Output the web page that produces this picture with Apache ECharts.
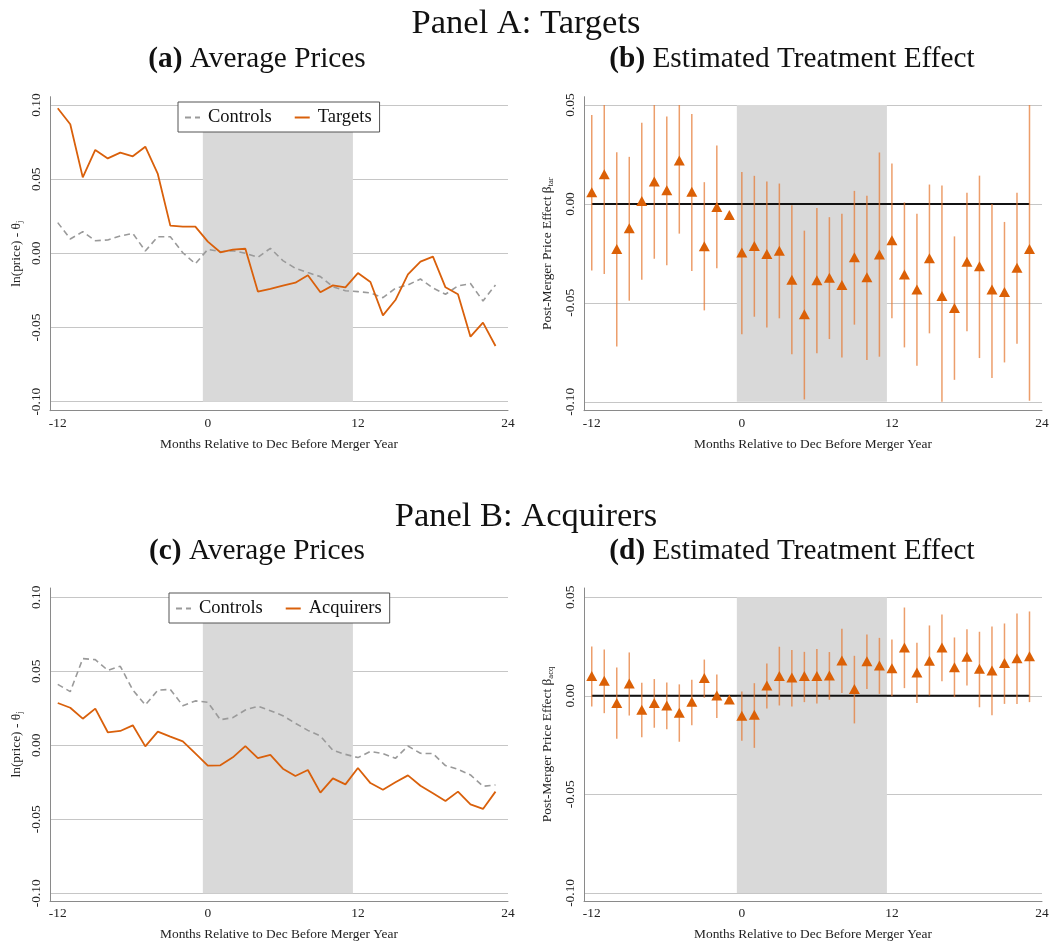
<!DOCTYPE html>
<html>
<head>
<meta charset="utf-8">
<script src="https://cdn.jsdelivr.net/npm/echarts@6/dist/echarts.min.js"></script>
<style>
html,body{margin:0;padding:0;background:#fff;}
#chart{width:1056px;height:946px;}
</style>
</head>
<body>
<div id="chart"></div>
<script>
// ---------------- DATA ----------------
var months = [-12,-11,-10,-9,-8,-7,-6,-5,-4,-3,-2,-1,0,1,2,3,4,5,6,7,8,9,10,11,12,13,14,15,16,17,18,19,20,21,22,23];
var xTicks = [-12, 0, 12, 24];
var priceTicks = [-0.10, -0.05, 0.00, 0.05, 0.10];
var effectTicks = [-0.10, -0.05, 0.00, 0.05];
var shadeStart = -0.4, shadeEnd = 11.6;

// Panel A (a): average prices
var targetsA = [0.0978,0.0870,0.0512,0.0697,0.0640,0.0679,0.0654,0.0719,0.0535,0.0187,0.0180,0.0180,
  0.0079,0.0007,0.0025,0.0031,-0.0258,-0.0240,-0.0218,-0.0198,-0.0148,-0.0263,-0.0216,-0.0229,
  -0.0133,-0.0193,-0.0418,-0.0315,-0.0142,-0.0056,-0.0022,-0.0229,-0.0276,-0.0562,-0.0467,-0.0625];
var controlsA = [0.0207,0.0097,0.0146,0.0085,0.0090,0.0117,0.0135,0.0016,0.0112,0.0112,0.0004,-0.0070,
  0.0027,0.0011,0.0018,0.0000,-0.0027,0.0034,-0.0049,-0.0101,-0.0130,-0.0157,-0.0225,-0.0252,
  -0.0258,-0.0267,-0.0299,-0.0236,-0.0213,-0.0173,-0.0234,-0.0276,-0.0220,-0.0204,-0.0321,-0.0213];

// Panel A (b): estimated treatment effect, targets
var betaTar = [0.0059,0.0150,-0.0228,-0.0123,0.0015,0.0113,0.0069,0.0219,0.0061,-0.0214,-0.0015,-0.0056,
  -0.0246,-0.0212,-0.0253,-0.0236,-0.0383,-0.0558,-0.0386,-0.0373,-0.0410,-0.0270,-0.0371,-0.0255,
  -0.0184,-0.0356,-0.0433,-0.0275,-0.0465,-0.0526,-0.0292,-0.0315,-0.0433,-0.0445,-0.0322,-0.0228];
var ciTarHi = [0.0449,0.0500,0.0261,0.0238,0.0410,0.0500,0.0442,0.0500,0.0455,0.0110,0.0295,null,
  0.0162,0.0142,0.0113,0.0103,-0.0007,-0.0135,-0.0020,-0.0067,-0.0049,0.0066,0.0042,0.0260,
  0.0204,0.0008,-0.0049,0.0098,0.0093,-0.0164,0.0056,0.0143,0.0000,-0.0091,0.0056,0.0500];
var ciTarLo = [-0.0337,-0.0354,-0.0720,-0.0489,-0.0383,-0.0277,-0.0310,-0.0150,-0.0339,-0.0538,-0.0325,null,
  -0.0658,-0.0570,-0.0624,-0.0578,-0.0760,-0.0988,-0.0755,-0.0683,-0.0776,-0.0610,-0.0789,-0.0772,
  -0.0578,-0.0725,-0.0818,-0.0654,-0.1000,-0.0889,-0.0644,-0.0779,-0.0880,-0.0801,-0.0707,-0.0995];

// Panel B (c): average prices
var acquirersC = [0.0286,0.0254,0.0180,0.0248,0.0088,0.0097,0.0135,-0.0007,0.0092,0.0059,0.0027,-0.0054,
  -0.0137,-0.0135,-0.0081,-0.0005,-0.0086,-0.0065,-0.0158,-0.0207,-0.0167,-0.0320,-0.0223,-0.0264,
  -0.0153,-0.0255,-0.0300,-0.0250,-0.0203,-0.0273,-0.0324,-0.0376,-0.0313,-0.0399,-0.0430,-0.0313];
var controlsC = [0.0412,0.0363,0.0586,0.0579,0.0507,0.0534,0.0374,0.0273,0.0372,0.0378,0.0268,0.0300,
  0.0291,0.0173,0.0187,0.0239,0.0264,0.0234,0.0200,0.0149,0.0101,0.0063,-0.0034,-0.0061,
  -0.0083,-0.0041,-0.0056,-0.0088,-0.0005,-0.0054,-0.0056,-0.0137,-0.0162,-0.0200,-0.0277,-0.0268];

// Panel B (d): estimated treatment effect, acquirers
var betaAcq = [0.0101,0.0076,-0.0036,0.0063,-0.0071,-0.0037,-0.0049,-0.0086,-0.0030,0.0090,0.0002,-0.0019,
  -0.0101,-0.0096,0.0052,0.0101,0.0093,0.0100,0.0101,0.0103,0.0179,0.0034,0.0176,0.0154,
  0.0140,0.0245,0.0118,0.0178,0.0245,0.0145,0.0198,0.0137,0.0129,0.0166,0.0191,0.0201];
var ciAcqHi = [0.0250,0.0235,0.0144,0.0220,0.0066,0.0085,0.0068,0.0058,0.0081,0.0184,0.0108,null,
  0.0022,0.0064,0.0164,0.0249,0.0233,0.0223,0.0237,0.0222,0.0340,0.0203,0.0311,0.0294,
  0.0286,0.0448,0.0269,0.0357,0.0413,0.0296,0.0338,0.0325,0.0352,0.0367,0.0418,0.0428];
var ciAcqLo = [-0.0054,-0.0088,-0.0218,-0.0100,-0.0210,-0.0162,-0.0169,-0.0233,-0.0149,-0.0010,-0.0113,null,
  -0.0228,-0.0264,-0.0064,-0.0049,-0.0054,-0.0032,-0.0039,-0.0020,0.0014,-0.0140,0.0034,0.0010,
  -0.0002,0.0039,-0.0036,0.0002,0.0074,-0.0007,0.0052,-0.0058,-0.0098,-0.0041,-0.0042,-0.0032];

// ---------------- STYLE ----------------
var FONT = 'Liberation Serif';
var ORANGE = '#D9600B';
var TRI = '#DB6006';
var CI = 'rgba(228,120,50,0.72)';
var GRAY = '#9a9a9a';
var GRID = '#c6c6c6';
var AXIS = '#8a8a8a';
var SHADE = '#d9d9d9';

function pairs(xs, ys){ return xs.map(function(x,i){ return [x, ys[i]]; }); }
function ciData(xs, lo, hi){
  var out = [];
  xs.forEach(function(x,i){ if (lo[i] !== null && hi[i] !== null) out.push([x, lo[i], hi[i]]); });
  return out;
}

var grids = [
  {left:50,  top:96.7, width:458, height:314},
  {left:584, top:96.7, width:458, height:314},
  {left:50,  top:588,  width:458, height:313},
  {left:584, top:588,  width:458, height:313}
];
var yRanges = [[-0.1061,0.1056],[-0.1045,0.0542],[-0.1052,0.1063],[-0.1041,0.0547]];

function xAxisFor(i){
  return {
    type:'value', gridIndex:i, min:-12.62, max:24,
    axisLine:{show:true, onZero:false, lineStyle:{color:AXIS, width:1}},
    axisTick:{show:false, customValues:xTicks},
    axisLabel:{customValues:xTicks, margin:6, color:'#222', fontFamily:FONT, fontSize:13.4,
      formatter:function(v){return String(v);}},
    splitLine:{show:false},
    name:'Months Relative to Dec Before Merger Year', nameLocation:'middle', nameGap:27,
    nameMoveOverlap:false,
    nameTextStyle:{fontFamily:FONT, fontSize:13.4, color:'#222'}
  };
}
function yAxisFor(i){
  var ticks = (i % 2 === 0) ? priceTicks : effectTicks;
  var name;
  if (i % 2 === 0) {
    name = '{n|ln(price) - θ}{s|j}';
  } else {
    name = '{n|Post-Merger Price Effect β}{s|' + (i === 1 ? 'tar' : 'acq') + '}';
  }
  return {
    type:'value', gridIndex:i, min:yRanges[i][0], max:yRanges[i][1],
    axisLine:{show:true, onZero:false, lineStyle:{color:AXIS, width:1}},
    axisTick:{show:false, customValues:ticks},
    axisLabel:{customValues:ticks, rotate:90, margin:7, color:'#222', fontFamily:FONT, fontSize:13.4,
      formatter:function(v){ return v.toFixed(2); }},
    splitLine:{show:true, lineStyle:{color:GRID, width:1}},
    name:name, nameLocation:'middle', nameGap:(i % 2 === 0) ? 26 : 29,
    nameMoveOverlap:false,
    nameTextStyle:{rich:{
      n:{fontFamily:FONT, fontSize:13.4, color:'#222'},
      s:{fontFamily:FONT, fontSize:8.5, color:'#222', padding:[6,0,0,0]}
    }}
  };
}

var series = [];
// Panel a
series.push({
  type:'line', name:'Controls', xAxisIndex:0, yAxisIndex:0, data:pairs(months, controlsA),
  symbol:'none', lineStyle:{color:GRAY, width:1.6, type:[6,4]}, itemStyle:{color:GRAY}, z:3,
  markArea:{silent:true, itemStyle:{color:SHADE, opacity:1},
    data:[[{xAxis:shadeStart, yAxis:priceTicks[0]},{xAxis:shadeEnd, yAxis:priceTicks[priceTicks.length-1]}]]}
});
series.push({
  type:'line', name:'Targets', xAxisIndex:0, yAxisIndex:0, data:pairs(months, targetsA),
  symbol:'none', lineStyle:{color:ORANGE, width:1.8}, itemStyle:{color:ORANGE}, z:4
});
// Panel b
series.push({
  type:'line', name:'zeroB', xAxisIndex:1, yAxisIndex:1, data:[[months[0],0],[months[months.length-1],0]],
  symbol:'none', lineStyle:{color:'#111', width:2}, z:2,
  markArea:{silent:true, itemStyle:{color:SHADE, opacity:1},
    data:[[{xAxis:shadeStart, yAxis:effectTicks[0]},{xAxis:shadeEnd, yAxis:effectTicks[effectTicks.length-1]}]]}
});
function ciSeries(xi, data){
  return {
    type:'custom', name:'ci'+xi, xAxisIndex:xi, yAxisIndex:xi, data:data, z:3,
    encode:{x:0, y:[1,2]},
    renderItem:function(params, api){
      var x = api.value(0), lo = api.value(1), hi = api.value(2);
      var p1 = api.coord([x, lo]), p2 = api.coord([x, hi]);
      return {type:'line', shape:{x1:p1[0], y1:p1[1], x2:p2[0], y2:p2[1]},
        style:{stroke:CI, lineWidth:1.5}};
    }
  };
}
series.push(ciSeries(1, ciData(months, ciTarLo, ciTarHi)));
series.push({
  type:'scatter', name:'betaTar', xAxisIndex:1, yAxisIndex:1, data:pairs(months, betaTar),
  symbol:'triangle', symbolSize:[11,10], itemStyle:{color:TRI, opacity:1}, z:4
});
// Panel c
series.push({
  type:'line', name:'Controls', xAxisIndex:2, yAxisIndex:2, data:pairs(months, controlsC),
  symbol:'none', lineStyle:{color:GRAY, width:1.6, type:[6,4]}, itemStyle:{color:GRAY}, z:3,
  markArea:{silent:true, itemStyle:{color:SHADE, opacity:1},
    data:[[{xAxis:shadeStart, yAxis:priceTicks[0]},{xAxis:shadeEnd, yAxis:priceTicks[priceTicks.length-1]}]]}
});
series.push({
  type:'line', name:'Acquirers', xAxisIndex:2, yAxisIndex:2, data:pairs(months, acquirersC),
  symbol:'none', lineStyle:{color:ORANGE, width:1.8}, itemStyle:{color:ORANGE}, z:4
});
// Panel d
series.push({
  type:'line', name:'zeroD', xAxisIndex:3, yAxisIndex:3, data:[[months[0],0],[months[months.length-1],0]],
  symbol:'none', lineStyle:{color:'#111', width:2}, z:2,
  markArea:{silent:true, itemStyle:{color:SHADE, opacity:1},
    data:[[{xAxis:shadeStart, yAxis:effectTicks[0]},{xAxis:shadeEnd, yAxis:effectTicks[effectTicks.length-1]}]]}
});
series.push(ciSeries(3, ciData(months, ciAcqLo, ciAcqHi)));
series.push({
  type:'scatter', name:'betaAcq', xAxisIndex:3, yAxisIndex:3, data:pairs(months, betaAcq),
  symbol:'triangle', symbolSize:[11,10], itemStyle:{color:TRI, opacity:1}, z:4
});

function subTitle(letter, text, cx, top){
  return {
    text:'{b|(' + letter + ')} ' + text, left:cx, top:top, textAlign:'center',
    textStyle:{fontFamily:FONT, fontSize:29.3, fontWeight:'normal', color:'#111',
      rich:{b:{fontFamily:FONT, fontSize:29.3, fontWeight:'bold', color:'#111'}}}
  };
}
function legendFor(names, left, top){
  return {
    data:names, left:left, top:top, orient:'horizontal',
    backgroundColor:'#fff', borderColor:'#555', borderWidth:1, borderRadius:0,
    padding:[6,8,5,6], itemGap:22, itemWidth:15, itemHeight:12,
    selectedMode:false,
    itemStyle:{opacity:0},
    textStyle:{fontFamily:FONT, fontSize:18.5, color:'#111', padding:[0,0,0,3]}
  };
}

var option = {
  animation:false,
  backgroundColor:'#fff',
  title:[
    {text:'Panel A: Targets', left:521, top:1, textAlign:'center',
      textStyle:{fontFamily:FONT, fontSize:34.5, fontWeight:'normal', color:'#111'}},
    subTitle('a', 'Average Prices', 252, 40),
    subTitle('b', 'Estimated Treatment Effect', 787, 40),
    {text:'Panel B: Acquirers', left:521, top:494, textAlign:'center',
      textStyle:{fontFamily:FONT, fontSize:34.5, fontWeight:'normal', color:'#111'}},
    subTitle('c', 'Average Prices', 252, 532),
    subTitle('d', 'Estimated Treatment Effect', 787, 532)
  ],
  legend:[
    legendFor(['Controls','Targets'], 178, 102),
    legendFor(['Controls','Acquirers'], 169, 593)
  ],
  grid:grids,
  xAxis:[xAxisFor(0), xAxisFor(1), xAxisFor(2), xAxisFor(3)],
  yAxis:[yAxisFor(0), yAxisFor(1), yAxisFor(2), yAxisFor(3)],
  series:series
};

var chart = echarts.init(document.getElementById('chart'), null, {renderer:'canvas'});
chart.setOption(option);
</script>
</body>
</html>
